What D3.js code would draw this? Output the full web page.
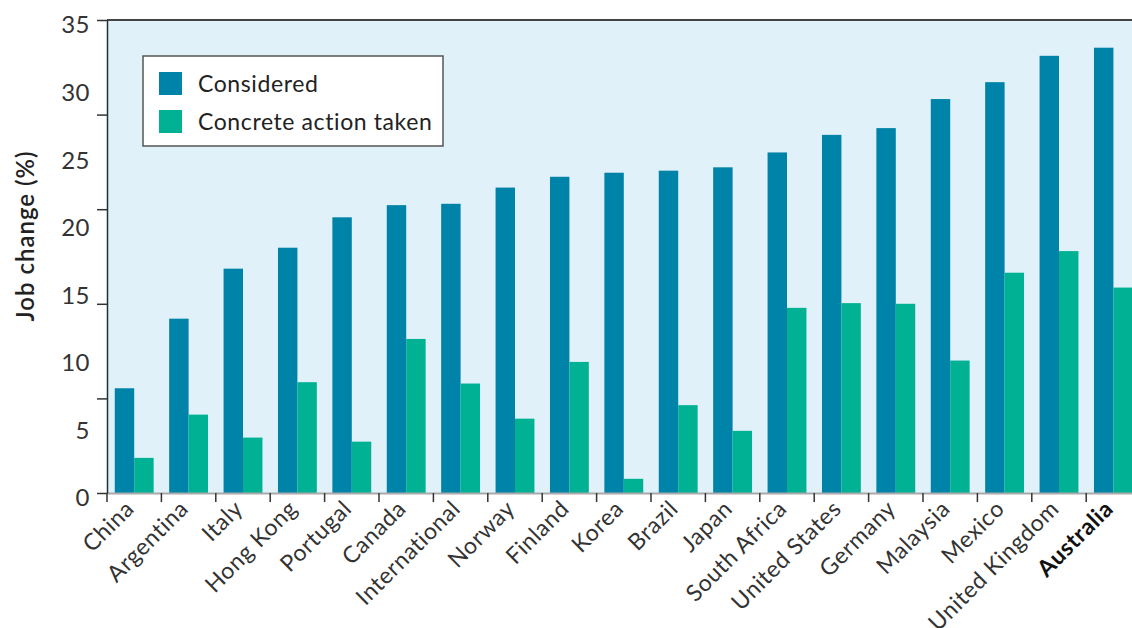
<!DOCTYPE html>
<html>
<head>
<meta charset="utf-8">
<script src="https://cdn.jsdelivr.net/npm/d3@7"></script>
<style>
	body { margin: 0; background: #fff; }
	svg { display: block; font-family: "Lato", "Open Sans", sans-serif; }
	.tick-label { fill: #333; font-size: 24px; letter-spacing: 0.5px; }
	.cat-label { fill: #333; font-size: 23px; letter-spacing: 0.6px; }
	.legend-text { fill: #222; font-size: 23px; letter-spacing: 0.6px; }
</style>
</head>
<body>
<svg width="1132" height="628"></svg>
<script>
// data
var countries = ["China", "Argentina", "Italy", "Hong Kong", "Portugal", "Canada", "International",
	"Norway", "Finland", "Korea", "Brazil", "Japan", "South Africa", "United States", "Germany",
	"Malaysia", "Mexico", "United Kingdom", "Australia"];
var considered = [7.75, 12.9, 16.6, 18.15, 20.4, 21.3, 21.4, 22.6, 23.4, 23.7, 23.85, 24.1,
	25.2, 26.5, 27.0, 29.15, 30.4, 32.35, 32.95];
var actionTaken = [2.6, 5.8, 4.1, 8.2, 3.8, 11.4, 8.1, 5.5, 9.7, 1.05, 6.5, 4.6,
	13.7, 14.05, 14.0, 9.8, 16.3, 17.9, 15.2];
var seriesNames = ["Considered", "Concrete action taken"];
var seriesColors = ["#0083a9", "#00b194"];
var yLabels = [0, 5, 10, 15, 20, 25, 30, 35];
var yTickMarks = [0, 7, 14, 21, 28, 35]; // marks in the original don't line up with the labels
var highlight = "Australia";

var svg = d3.select("svg"),
	margin = {top: 20, left: 107, bottom: 135},
	plotBottom = +svg.attr("height") - margin.bottom,
	plotRight = 1132;

var data = countries.map(function(c, i) {
	return {country: c, values: [considered[i], actionTaken[i]]};
});

// bands run past the right edge, as in the original, the last bar is cut
var x0 = d3.scaleBand()
	.domain(countries)
	.range([margin.left, margin.left + countries.length * 54.4]);

var x1 = d3.scaleBand()
	.domain([0, 1])
	.range([0, x0.bandwidth()])
	.paddingOuter(0.4);

var y = d3.scaleLinear()
	.domain([0, 35])
	.range([plotBottom, margin.top]);

// plot background
svg.append("rect")
	.attr("x", margin.left)
	.attr("y", margin.top)
	.attr("width", plotRight - margin.left)
	.attr("height", plotBottom - margin.top)
	.attr("fill", "#e1f1f9");

// bars
var groups = svg.append("g").selectAll("g")
	.data(data)
	.enter().append("g")
	.attr("transform", function(d) { return "translate(" + x0(d.country) + ",0)"; });

groups.selectAll("rect")
	.data(function(d) { return d.values; })
	.enter().append("rect")
	.attr("x", function(d, i) { return x1(i); })
	.attr("width", x1.bandwidth())
	.attr("y", function(d) { return y(d); })
	.attr("height", function(d) { return plotBottom - y(d); })
	.attr("fill", function(d, i) { return seriesColors[i]; });

// top border
svg.append("line")
	.attr("x1", margin.left).attr("x2", plotRight)
	.attr("y1", margin.top).attr("y2", margin.top)
	.attr("stroke", "#444").attr("stroke-width", 2);

// x axis
var xAxis = svg.append("g")
	.attr("transform", "translate(0," + plotBottom + ")")
	.call(d3.axisBottom(x0).tickSize(0).tickFormat(""));
xAxis.select(".domain").attr("stroke", "#aaa").attr("stroke-width", 2);
xAxis.selectAll(".tick").remove();

svg.append("g").selectAll("line")
	.data(countries)
	.enter().append("line")
	.attr("x1", function(d) { return x0(d); })
	.attr("x2", function(d) { return x0(d); })
	.attr("y1", plotBottom)
	.attr("y2", plotBottom + 9)
	.attr("stroke", "#333")
	.attr("stroke-width", 1.5);

svg.append("g").selectAll("text")
	.data(countries)
	.enter().append("text")
	.attr("class", "cat-label")
	.attr("text-anchor", "end")
	.attr("transform", function(d) {
		return "translate(" + (x0(d) + x0.bandwidth() / 2 - 11) + "," + (plotBottom + 5) + ") rotate(-45)";
	})
	.attr("dy", "0.75em")
	.style("font-weight", function(d) { return d === highlight ? "bold" : null; })
	.style("fill", function(d) { return d === highlight ? "#111" : null; })
	.text(function(d) { return d; });

// y axis
var yAxis = svg.append("g")
	.attr("transform", "translate(" + margin.left + ",0)")
	.call(d3.axisLeft(y).tickValues(yTickMarks).tickSize(10).tickSizeOuter(0).tickFormat(""));
yAxis.select(".domain").attr("stroke", "#1d3333").attr("stroke-width", 1.5);
yAxis.selectAll(".tick line").attr("stroke", "#333").attr("stroke-width", 1.5);

svg.append("g").selectAll("text")
	.data(yLabels)
	.enter().append("text")
	.attr("class", "tick-label")
	.attr("x", 90)
	.attr("y", function(d) { return y(d) + 5; })
	.attr("dy", "0.35em")
	.attr("text-anchor", "end")
	.text(function(d) { return d; });

svg.append("text")
	.attr("transform", "translate(34,236) rotate(-90)")
	.attr("text-anchor", "middle")
	.style("font-size", "24px")
	.style("font-weight", 600)
	.style("letter-spacing", "1px")
	.style("fill", "#222")
	.text("Job change (%)");

// legend
var legend = svg.append("g").attr("transform", "translate(143,56)");
legend.append("rect")
	.attr("width", 300)
	.attr("height", 90)
	.attr("fill", "#fff")
	.attr("stroke", "#555")
	.attr("stroke-width", 1.5);

var items = legend.selectAll(".item")
	.data(seriesNames)
	.enter().append("g")
	.attr("class", "item")
	.attr("transform", function(d, i) { return "translate(16," + (16 + i * 38) + ")"; });

items.append("rect")
	.attr("width", 23)
	.attr("height", 23)
	.attr("fill", function(d, i) { return seriesColors[i]; });

items.append("text")
	.attr("class", "legend-text")
	.attr("x", 39)
	.attr("y", 11.5)
	.attr("dy", "0.35em")
	.text(function(d) { return d; });
</script>
</body>
</html>
